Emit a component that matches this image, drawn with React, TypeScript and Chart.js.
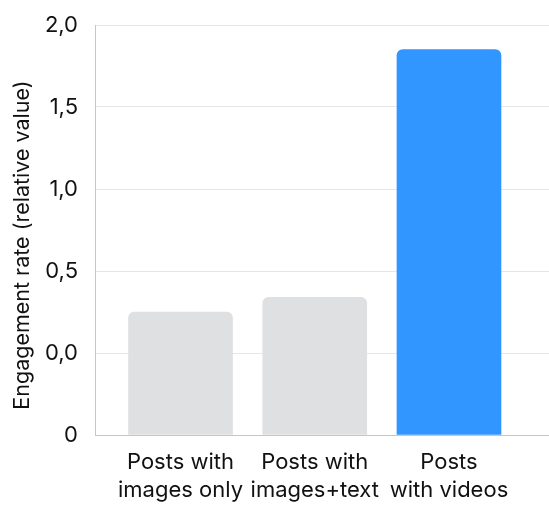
import { useEffect, useRef } from 'react'
import { Chart, registerables, type Plugin } from 'chart.js'

Chart.register(...registerables)

const CATEGORIES: string[][] = [
  ['Posts with', 'images only'],
  ['Posts with', 'images+text'],
  ['Posts', 'with videos'],
]
const VALUES = [0.25, 0.34, 1.85]
const BAR_COLORS = ['#dfe0e2', '#dfe0e2', '#3196ff']
const Y_TICKS = [-0.5, 0, 0.5, 1, 1.5, 2]
const Y_LABELS = ['0', '0,0', '0,5', '1,0', '1,5', '2,0']
const Y_TITLE = 'Engagement rate (relative value)'

const FONT = 'Inter, "Noto Sans", sans-serif'

// axis title drawn by hand so it can sit a little below the plot's middle, like the original
const yTitle: Plugin<'bar'> = {
  id: 'yTitle',
  afterDraw(chart) {
    const { ctx, chartArea } = chart
    ctx.save()
    ctx.translate(23, (chartArea.top + chartArea.bottom) / 2 + 15)
    ctx.rotate(-Math.PI / 2)
    ctx.font = `21.5px ${FONT}`
    ctx.fillStyle = '#111'
    ctx.textAlign = 'center'
    ctx.textBaseline = 'middle'
    ctx.fillText(Y_TITLE, 0, 0)
    ctx.restore()
  },
}

export default function App() {
  const canvasRef = useRef<HTMLCanvasElement>(null)
  const chartRef = useRef<Chart | null>(null)

  useEffect(() => {
    document.body.style.margin = '0'
    if (!canvasRef.current) return
    chartRef.current?.destroy()
    chartRef.current = new Chart(canvasRef.current, {
      type: 'bar',
      data: {
        datasets: [
          {
            data: VALUES.map((v, i) => ({ x: i, y: v })),
            backgroundColor: BAR_COLORS,
            borderRadius: 6,
            borderSkipped: 'start',
            barThickness: 104,
            base: Y_TICKS[0],
          },
        ],
      },
      plugins: [yTitle],
      options: {
        animation: false,
        responsive: true,
        maintainAspectRatio: false,
        layout: { padding: { top: 25, right: 0, bottom: 0, left: 0 } },
        plugins: { legend: { display: false }, tooltip: { enabled: false } },
        scales: {
          x: {
            type: 'linear',
            offset: false,
            min: -0.637,
            max: 2.745,
            grid: { display: false, drawTicks: false },
            border: { display: true, color: '#c6c6c6', width: 1 },
            afterFit: (s) => {
              s.height = 92
              s.paddingLeft = 0
              s.paddingRight = 0
            },
            afterBuildTicks: (s) => {
              s.ticks = CATEGORIES.map((_, i) => ({ value: i }))
            },
            ticks: {
              autoSkip: false,
              maxRotation: 0,
              padding: 13,
              color: '#111',
              font: { family: FONT, size: 22, lineHeight: 1.27 },
              callback: (v) => CATEGORIES[Number(v)] ?? '',
            },
          },
          y: {
            min: Y_TICKS[0],
            max: Y_TICKS[Y_TICKS.length - 1],
            afterFit: (s) => {
              s.width = 95
              s.paddingTop = 0
              s.paddingBottom = 0
            },
            afterBuildTicks: (s) => {
              s.ticks = Y_TICKS.map((value) => ({ value }))
            },
            grid: { color: '#e6e6e6', drawTicks: false },
            border: { display: true, color: '#c6c6c6', width: 1 },
            ticks: {
              padding: 17,
              color: '#111',
              font: { family: FONT, size: 22 },
              callback: (v) => Y_LABELS[Y_TICKS.indexOf(Number(v))] ?? '',
            },
          },
        },
      },
    })
    return () => {
      chartRef.current?.destroy()
      chartRef.current = null
    }
  }, [])

  return (
    <div style={{ width: 549, height: 527, position: 'relative', overflow: 'hidden', background: '#fff' }}>
      <canvas ref={canvasRef} />
    </div>
  )
}
